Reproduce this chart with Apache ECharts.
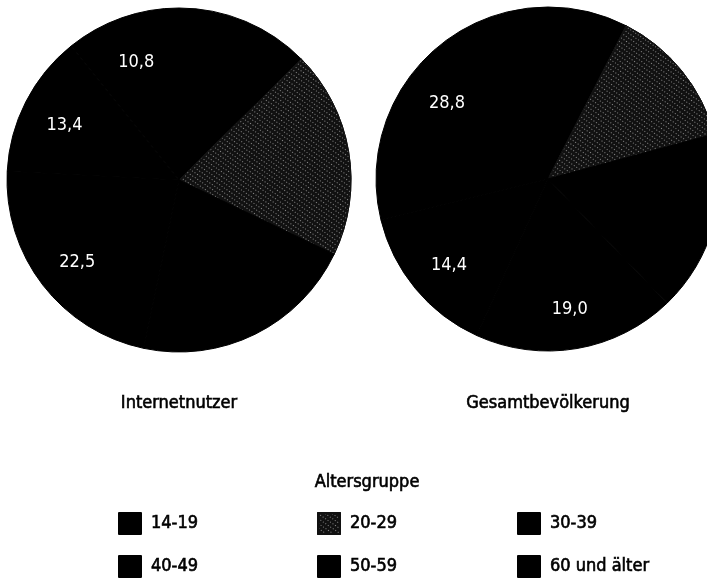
<!DOCTYPE html>
<html>
<head>
<meta charset="utf-8">
<script src="https://cdn.jsdelivr.net/npm/echarts@6/dist/echarts.min.js"></script>
<style>
  html, body { margin: 0; padding: 0; background: #fff; }
  #chart { width: 707px; height: 581px; }
</style>
</head>
<body>
<div id="chart"></div>
<script>
// ---- data ----
const CATEGORIES = ['14-19', '20-29', '30-39', '40-49', '50-59', '60 und älter'];
const INTERNETNUTZER = [12.6, 19.5, 21.2, 22.5, 13.4, 10.8];
const GESAMTBEVOELKERUNG = [7.5, 13.3, 17.0, 19.0, 14.4, 28.8];
const LABELED_GROUPS = ['40-49', '50-59', '60 und älter'];
const PIE_TITLES = ['Internetnutzer', 'Gesamtbevölkerung'];
const LEGEND_TITLE = 'Altersgruppe';
const LEGEND_COLUMNS = [['14-19', '40-49'], ['20-29', '50-59'], ['30-39', '60 und älter']];

// ---- styles ----
const TITLE_FONT = 'DejaVu Sans Condensed, DejaVu Sans, sans-serif';
const LABEL_FONT = 'Liberation Sans Narrow, DejaVu Sans Condensed, sans-serif';
const SLICE_COLORS = ['#000000', '#111111', '#000000', '#000000', '#000000', '#000000'];
const TEXTURE = {
  symbol: 'rect', symbolSize: 1,
  dashArrayX: [1, 2], dashArrayY: [1, 3],
  color: 'rgba(255,255,255,0.5)', rotation: 0.6
};
const R = 172;
const PIES = [{ cx: 179, cy: 180, values: INTERNETNUTZER }, { cx: 548, cy: 179, values: GESAMTBEVOELKERUNG }];

function sliceData(values) {
  return CATEGORIES.map((name, i) => {
    const d = { name: name, value: values[i] };
    if (i === 1) d.itemStyle = { decal: TEXTURE, borderColor: '#111111' };
    return d;
  });
}
function labelData(values) {
  return CATEGORIES.map((name, i) => ({
    name: name, value: values[i],
    label: { show: LABELED_GROUPS.indexOf(name) >= 0 }
  }));
}
const fmt = p => p.value.toFixed(1).replace('.', ',');

const series = [];
PIES.forEach(p => {
  series.push({
    type: 'pie', center: [p.cx, p.cy], radius: [0, R],
    startAngle: 90, clockwise: true, silent: true,
    label: { show: false }, labelLine: { show: false },
    itemStyle: { borderWidth: 1, borderColor: '#000000' },
    emphasis: { disabled: true },
    data: sliceData(p.values)
  });
});
PIES.forEach(p => {
  series.push({
    type: 'pie', center: [p.cx, p.cy + 4], radius: [R * 0.46, R],
    startAngle: 90, clockwise: true, silent: true,
    itemStyle: { color: 'rgba(0,0,0,0)', borderWidth: 0 },
    label: { position: 'inside', color: '#ffffff', fontFamily: LABEL_FONT, fontSize: 18, formatter: fmt },
    labelLine: { show: false },
    emphasis: { disabled: true },
    data: labelData(p.values)
  });
});

const TEXT_STYLE = {
  fontFamily: TITLE_FONT, fontSize: 18, fontWeight: 'normal', color: '#000',
  textBorderColor: '#000', textBorderWidth: 0.6
};
const titles = PIE_TITLES.map((t, i) => ({
  text: t, left: PIES[i].cx, top: 394, textAlign: 'center', padding: 0,
  textStyle: TEXT_STYLE
}));
titles.push({
  text: LEGEND_TITLE, left: 367, top: 473, textAlign: 'center', padding: 0,
  textStyle: TEXT_STYLE
});

const LEGEND_X = [118, 317, 517];
const legends = LEGEND_COLUMNS.map((col, i) => ({
  data: col, orient: 'vertical', left: LEGEND_X[i], top: 512, padding: 0,
  itemWidth: 22, itemHeight: 21, itemGap: 20, icon: 'rect',
  selectedMode: false,
  textStyle: Object.assign({}, TEXT_STYLE, { padding: [0, 0, 0, 5] })
}));

const chart = echarts.init(document.getElementById('chart'), null, { renderer: 'canvas' });
chart.setOption({
  animation: false,
  backgroundColor: '#ffffff',
  color: SLICE_COLORS,
  title: titles,
  legend: legends,
  series: series
});
</script>
</body>
</html>
